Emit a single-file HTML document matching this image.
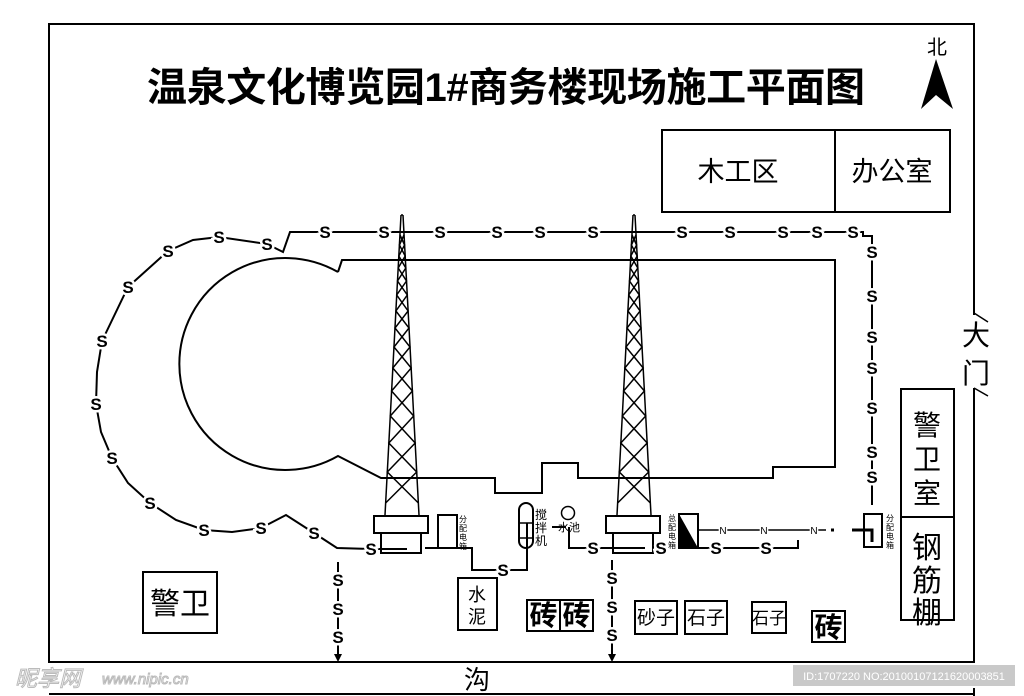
<!DOCTYPE html>
<html><head><meta charset="utf-8"><style>
html,body{margin:0;padding:0;background:#fff;}
svg{display:block;}
text{font-family:"Liberation Sans","Noto Sans CJK SC",sans-serif;}
.s{font-size:17px;font-weight:bold;text-anchor:middle;stroke:#fff;stroke-width:5px;paint-order:stroke;fill:#000;}
.n{font-size:10px;text-anchor:middle;stroke:#fff;stroke-width:3px;paint-order:stroke;fill:#000;}
.l{fill:none;stroke:#000;stroke-width:2;}
.t{fill:none;stroke:#000;stroke-width:1.5;}
.sm{font-size:8px;text-anchor:middle;}
</style></head><body>
<svg width="1024" height="696" viewBox="0 0 1024 696" xmlns="http://www.w3.org/2000/svg">
<path class="l" d="M974,315 L974,24 L49,24 L49,662 L974,662 L974,388"/>
<path class="t" d="M974,313 L988,322 M974,388 L988,396"/>
<path class="l" d="M49,694 L974,694 M974,688 L974,696"/>
<text x="147" y="101" font-size="40" font-weight="bold" textLength="718" lengthAdjust="spacing">温泉文化博览园1#商务楼现场施工平面图</text>
<text x="937" y="54" font-size="20" text-anchor="middle">北</text>
<polygon points="936,59 921,109 936,95 953,109" fill="#000"/>
<rect x="662" y="130" width="288" height="82" class="l"/>
<line x1="835" y1="130" x2="835" y2="212" class="l"/>
<text x="738" y="181" font-size="27" text-anchor="middle">木工区</text>
<text x="892" y="181" font-size="27" text-anchor="middle">办公室</text>
<path class="l" d="M338,272 L342,260 L835,260 L835,467 L773,467 L773,478 L578,478 L578,463 L542,463 L542,493 L495,493 L495,478 L381,478 L338,456 A106,106 0 1 1 338,272"/>
<path class="l" d="M267,244 L283,252 L290,232 L855,232 L863,232 L863,236 L872,236 L872,505"/>
<path class="l" d="M267,244 L219,237 L193,240 L168,251 L128,287 L102,341 L97,372 L96,404 L101,432 L112,458 L128,483 L150,503 L176,520 L204,530 L232,532 L261,528 L286,515 L314,533 L337,548 L371,549 L407,549"/>
<g>
<text class="s" x="267" y="250">S</text><text class="s" x="219" y="243">S</text><text class="s" x="168" y="257">S</text><text class="s" x="128" y="293">S</text><text class="s" x="102" y="347">S</text><text class="s" x="96" y="410">S</text><text class="s" x="112" y="464">S</text><text class="s" x="150" y="509">S</text><text class="s" x="204" y="536">S</text><text class="s" x="261" y="534">S</text><text class="s" x="314" y="539">S</text><text class="s" x="371" y="555">S</text>
<text class="s" x="325" y="238">S</text><text class="s" x="384" y="238">S</text><text class="s" x="440" y="238">S</text><text class="s" x="497" y="238">S</text><text class="s" x="540" y="238">S</text><text class="s" x="593" y="238">S</text><text class="s" x="682" y="238">S</text><text class="s" x="730" y="238">S</text><text class="s" x="783" y="238">S</text><text class="s" x="817" y="238">S</text><text class="s" x="853" y="238">S</text>
<text class="s" x="872" y="258">S</text><text class="s" x="872" y="302">S</text><text class="s" x="872" y="343">S</text><text class="s" x="872" y="374">S</text><text class="s" x="872" y="414">S</text><text class="s" x="872" y="458">S</text><text class="s" x="872" y="483">S</text>
</g>
<g>
<path class="t" d="M401,215 L385,515 M403,215 L419,515 M401,215 L403,215"/>
<polyline class="t" points="400,235 404.6,245 398.8,256 405.8,268 397.5,281 407.3,295 395.9,311 409,328 394,347 411.2,368 391.6,391 413.7,416 388.8,443 416.7,472 385.6,503"/>
<polyline class="t" points="404,235 399.4,245 405.2,256 398.2,268 406.5,281 396.7,295 408.1,311 395,328 410,347 392.8,368 412.4,391 390.3,416 415.2,443 387.3,472 418.4,503"/>
<rect x="374" y="516" width="54" height="17" fill="#fff" stroke="#000" stroke-width="2"/>
<rect x="381" y="533" width="40" height="20" fill="none" stroke="#000" stroke-width="2"/>
</g>
<g transform="translate(232,0)">
<path class="t" d="M401,215 L385,515 M403,215 L419,515 M401,215 L403,215"/>
<polyline class="t" points="400,235 404.6,245 398.8,256 405.8,268 397.5,281 407.3,295 395.9,311 409,328 394,347 411.2,368 391.6,391 413.7,416 388.8,443 416.7,472 385.6,503"/>
<polyline class="t" points="404,235 399.4,245 405.2,256 398.2,268 406.5,281 396.7,295 408.1,311 395,328 410,347 392.8,368 412.4,391 390.3,416 415.2,443 387.3,472 418.4,503"/>
<rect x="374" y="516" width="54" height="17" fill="#fff" stroke="#000" stroke-width="2"/>
<rect x="381" y="533" width="40" height="20" fill="none" stroke="#000" stroke-width="2"/>
</g>
<path class="l" d="M425,548 L472,548 L472,570 L527,570 L527,523"/>
<rect x="438" y="515" width="19" height="33" class="l"/>
<text class="sm" x="463" y="522">分</text><text class="sm" x="463" y="531">配</text><text class="sm" x="463" y="540">电</text><text class="sm" x="463" y="549">箱</text>
<text class="s" x="503" y="576">S</text>
<rect x="519" y="503" width="14" height="45" rx="7" class="l"/>
<path class="t" d="M519,523 L533,523 M519,538 L533,538"/>
<text x="541" y="519" font-size="12" text-anchor="middle">搅</text><text x="541" y="532" font-size="12" text-anchor="middle">拌</text><text x="541" y="545" font-size="12" text-anchor="middle">机</text>
<circle cx="568" cy="513" r="6.5" class="t"/>
<path class="l" d="M552,527 L566,527 M569,527 L569,548 L645,548"/>
<text x="569" y="531" font-size="11" text-anchor="middle">水池</text>
<text class="s" x="593" y="554">S</text>
<text class="s" x="661" y="554">S</text>
<text class="sm" x="672" y="521">总</text><text class="sm" x="672" y="530">配</text><text class="sm" x="672" y="539">电</text><text class="sm" x="672" y="548">箱</text>
<rect x="679" y="514" width="19" height="34" class="l"/>
<polygon points="679,514 698,548 679,548" fill="#000"/>
<path class="l" d="M698,548 L798,548 L798,540"/>
<text class="s" x="716" y="554">S</text><text class="s" x="766" y="554">S</text>
<path class="t" d="M698,530 L826,530"/>
<path d="M831,530 L834,530 M852,530 L872,530 L872,542" stroke="#000" stroke-width="3" fill="none"/>
<text class="n" x="723" y="534">N</text><text class="n" x="764" y="534">N</text><text class="n" x="814" y="534">N</text>
<rect x="864" y="514" width="18" height="33" class="l"/>
<text class="sm" x="890" y="521">分</text><text class="sm" x="890" y="530">配</text><text class="sm" x="890" y="539">电</text><text class="sm" x="890" y="548">箱</text>
<path class="l" d="M338,562 L338,656 M612,560 L612,656"/>
<polygon points="334,654 342,654 338,662" fill="#000"/>
<polygon points="608,654 616,654 612,662" fill="#000"/>
<text class="s" x="338" y="586">S</text><text class="s" x="338" y="615">S</text><text class="s" x="338" y="643">S</text>
<text class="s" x="612" y="584">S</text><text class="s" x="612" y="613">S</text><text class="s" x="612" y="641">S</text>
<rect x="901" y="389" width="53" height="231" class="l"/>
<line x1="901" y1="517" x2="954" y2="517" class="l"/>
<text x="927" y="435" font-size="28" text-anchor="middle">警</text><text x="927" y="469" font-size="28" text-anchor="middle">卫</text><text x="927" y="503" font-size="28" text-anchor="middle">室</text>
<text x="927" y="558" font-size="30" text-anchor="middle">钢</text><text x="927" y="591" font-size="30" text-anchor="middle">筋</text><text x="927" y="623" font-size="30" text-anchor="middle">棚</text>
<text x="976" y="345" font-size="28" text-anchor="middle">大</text><text x="976" y="383" font-size="28" text-anchor="middle">门</text>
<rect x="143" y="572" width="74" height="61" class="l"/>
<text x="180" y="614" font-size="30" text-anchor="middle">警卫</text>
<rect x="458" y="578" width="39" height="52" class="l"/>
<text x="477" y="601" font-size="18" text-anchor="middle">水</text><text x="477" y="623" font-size="18" text-anchor="middle">泥</text>
<rect x="527" y="600" width="66" height="31" class="l"/>
<line x1="560" y1="600" x2="560" y2="631" class="l"/>
<text x="543.5" y="625" font-size="28" font-weight="bold" text-anchor="middle">砖</text><text x="576.5" y="625" font-size="28" font-weight="bold" text-anchor="middle">砖</text>
<rect x="635" y="601" width="42" height="33" class="l"/>
<text x="656" y="624" font-size="19" text-anchor="middle">砂子</text>
<rect x="685" y="601" width="42" height="33" class="l"/>
<text x="706" y="624" font-size="19" text-anchor="middle">石子</text>
<rect x="752" y="602" width="34" height="31" class="l"/>
<text x="769" y="624" font-size="17" text-anchor="middle">石子</text>
<rect x="812" y="611" width="33" height="31" class="l"/>
<text x="828.5" y="637" font-size="28" font-weight="bold" text-anchor="middle">砖</text>
<text x="477" y="689" font-size="26" text-anchor="middle">沟</text>
<rect x="793" y="665" width="222" height="21" fill="#c9c9c9"/>
<text x="904" y="680" font-size="11" fill="#fff" text-anchor="middle">ID:1707220 NO:20100107121620003851</text>
<text x="15" y="686" font-size="22" fill="#fff" stroke="#bbb" stroke-width="1" font-style="italic">昵享网</text>
<text x="102" y="684" font-size="15" fill="#fff" stroke="#bbb" stroke-width="1" font-style="italic">www.nipic.cn</text>
</svg>
</body></html>
